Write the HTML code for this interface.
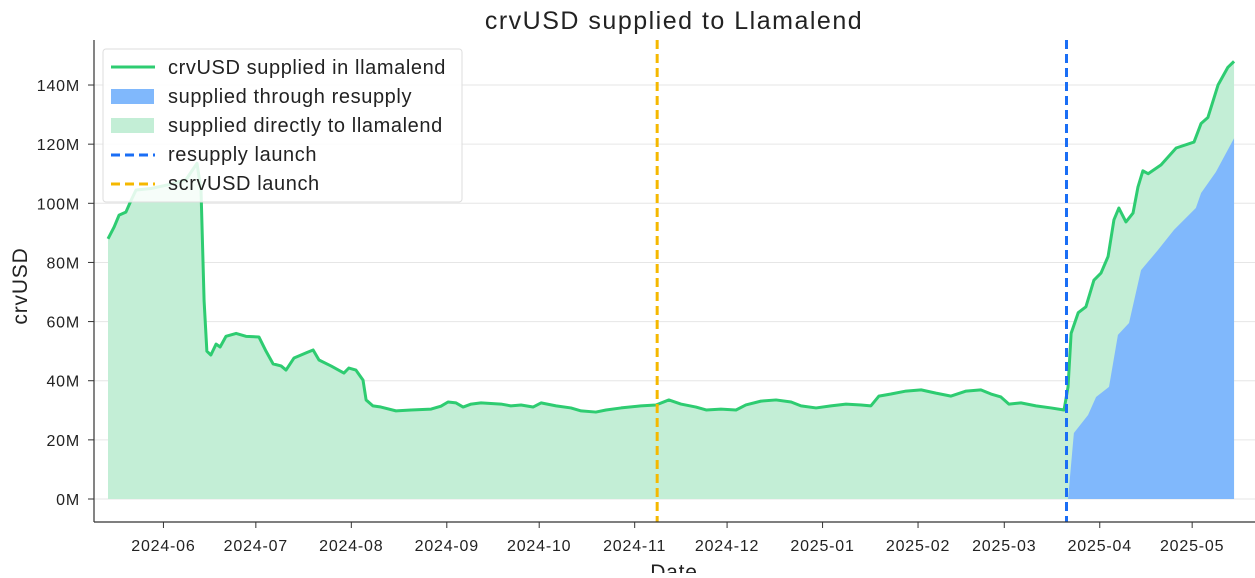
<!DOCTYPE html>
<html><head><meta charset="utf-8"><style>
body{margin:0;background:#fff;}
svg text{font-family:"Liberation Sans",sans-serif;fill:#222;}
</style></head><body>
<svg id="chart" width="1255" height="573" xmlns="http://www.w3.org/2000/svg">
<text x="674" y="29" font-size="25" letter-spacing="1.5" text-anchor="middle">crvUSD supplied to Llamalend</text>
<text x="27" y="286" font-size="21" letter-spacing="0.8" text-anchor="middle" transform="rotate(-90 27 286)">crvUSD</text>
<text x="674" y="579" font-size="21" letter-spacing="0.8" text-anchor="middle">Date</text>
<g id="grid"></g><g id="areas"></g><g id="lines"></g><g id="axes"></g>
<g id="legend" font-size="20" letter-spacing="0.6">
<rect x="103" y="49" width="359" height="153" rx="3" fill="#fff" fill-opacity="0.85" stroke="#ddd"/>
<line x1="111" y1="67" x2="155" y2="67" stroke="#2ecc71" stroke-width="3"/>
<text x="168" y="74">crvUSD supplied in llamalend</text>
<rect x="111" y="89" width="43" height="15" fill="#80b8fc"/>
<text x="168" y="103">supplied through resupply</text>
<rect x="111" y="118" width="43" height="15" fill="#c3eed6"/>
<text x="168" y="132">supplied directly to llamalend</text>
<line x1="111" y1="155" x2="155" y2="155" stroke="#1a6ef5" stroke-width="3" stroke-dasharray="9,5"/>
<text x="168" y="161">resupply launch</text>
<line x1="111" y1="184" x2="155" y2="184" stroke="#f5b800" stroke-width="3" stroke-dasharray="9,5"/>
<text x="168" y="190">scrvUSD launch</text>
</g>
</svg>
<script>
// days since 2024-05-14
const totalDays=[0,2,3.6,5.8,7.5,9.1,14,20.5,25.3,28.9,30.2,31.2,32.1,33.4,35.1,36.4,38.3,41.6,44.8,49,51.3,53.6,56.2,57.8,60.4,64.3,66.6,68.5,72.4,76.6,78.2,80.5,82.8,83.8,86,88.6,93.5,98.4,104.9,108.1,110.4,113,115.3,117.9,121.1,127.6,130.8,134.1,138,140.6,145.5,150.3,153.6,158.4,161.7,166.6,173,177.9,182.1,186,190.9,194.2,199,203.9,207.1,212,216.9,221.8,225,229.9,234.7,239.6,244.5,247.7,250.3,254.2,259.1,264,268.8,273.7,278.6,283.4,286.7,289.9,292.5,296.4,301.3,306.2,310.4,311.7,312.7,315,317.5,320.1,322.4,324.7,326.6,328.2,330.5,332.8,334.4,336,337.7,341.9,346.8,352.6,354.9,357.1,360.4,363.6,365.6];
const totalVals=[88,92,96,97,101,104.5,105,106.5,108,113.5,104.5,67,50,48.7,52.4,51.4,55,56,55,54.8,50,45.7,45,43.6,47.7,49.4,50.4,47,45,42.6,44.3,43.6,40.2,33.5,31.5,31.1,29.8,30.1,30.4,31.4,32.8,32.5,31.1,32.1,32.5,32.1,31.5,31.8,31.1,32.5,31.5,30.8,29.8,29.4,30.1,30.8,31.5,31.8,33.5,32.1,31.1,30.1,30.4,30.1,31.8,33.1,33.5,32.8,31.5,30.8,31.5,32.1,31.8,31.5,34.8,35.5,36.5,36.9,35.8,34.8,36.5,36.9,35.5,34.5,32.1,32.5,31.5,30.8,30.1,37.9,56,63,65,74,76.4,82,94.4,98.4,93.7,96.7,105.5,111,110,113,118.7,120.7,127,129,140,146,148];
const resDays=[311.2,311.7,313.6,318.2,320.8,325,327.9,331.5,335.4,340.9,346.1,353.2,354.9,359.7,365.6];
const resVals=[0,0,22.3,28.4,34.5,37.9,55.5,59.5,77.4,84.2,91,98.4,103.5,110.6,122];
const yTicks=[0,20,40,60,80,100,120,140];
const xTickDays=[18,48,79,110,140,171,201,232,263,291,322,352];
const xTickLabels=["2024-06","2024-07","2024-08","2024-09","2024-10","2024-11","2024-12","2025-01","2025-02","2025-03","2025-04","2025-05"];
const scrvDay=178.3, resupplyDay=311.2;
const NS="http://www.w3.org/2000/svg";
const X=d=>108+d*3.08, Y=v=>499-v*2.957;
function mk(tag,attrs,parent){const e=document.createElementNS(NS,tag);for(const k in attrs)e.setAttribute(k,attrs[k]);document.getElementById(parent).appendChild(e);return e;}
yTicks.forEach(v=>{
 const g=mk('line',{x1:94,x2:1255,y1:Y(v),y2:Y(v),stroke:'#e6e6e6','stroke-width':1},'grid');
 
 
 const t=mk('line',{x1:88,x2:94,y1:Y(v),y2:Y(v),stroke:'#333'},'axes');
 
 
 const l=mk('text',{x:80,y:Y(v)+6,'font-size':16,'letter-spacing':0.8,'text-anchor':'end'},'axes');l.textContent=v+'M';
 
 
});
xTickDays.forEach((d,i)=>{
 const t=mk('line',{x1:X(d),x2:X(d),y1:522,y2:528,stroke:'#333'},'axes');
 
 
 const l=mk('text',{x:X(d),y:551,'font-size':16,'letter-spacing':0.8,'text-anchor':'middle'},'axes');l.textContent=xTickLabels[i];
 
 
});
const pts=totalDays.map((d,i)=>X(d)+','+Y(totalVals[i]));
const ga=mk('polygon',{points:X(totalDays[0])+','+Y(0)+' '+pts.join(' ')+' '+X(totalDays[totalDays.length-1])+','+Y(0),fill:'#c3eed6'},'areas');


const rp=resDays.map((d,i)=>X(d)+','+Y(resVals[i]));
const ba=mk('polygon',{points:X(resDays[0])+','+Y(0)+' '+rp.join(' ')+' '+X(resDays[resDays.length-1])+','+Y(0),fill:'#80b8fc'},'areas');


const ln=mk('polyline',{points:pts.join(' '),fill:'none',stroke:'#2ecc71','stroke-width':3,'stroke-linejoin':'round'},'lines');


const v1=mk('line',{x1:X(scrvDay),x2:X(scrvDay),y1:40,y2:522,stroke:'#f5b800','stroke-width':3,'stroke-dasharray':'9,5'},'lines');


const v2=mk('line',{x1:X(resupplyDay),x2:X(resupplyDay),y1:40,y2:522,stroke:'#1a6ef5','stroke-width':3,'stroke-dasharray':'9,5'},'lines');


const sp1=mk('line',{x1:94,x2:94,y1:40,y2:522,stroke:'#333','stroke-width':1.2},'axes');


const sp2=mk('line',{x1:94,x2:1255,y1:522,y2:522,stroke:'#333','stroke-width':1.2},'axes');


</script>
</body></html>
